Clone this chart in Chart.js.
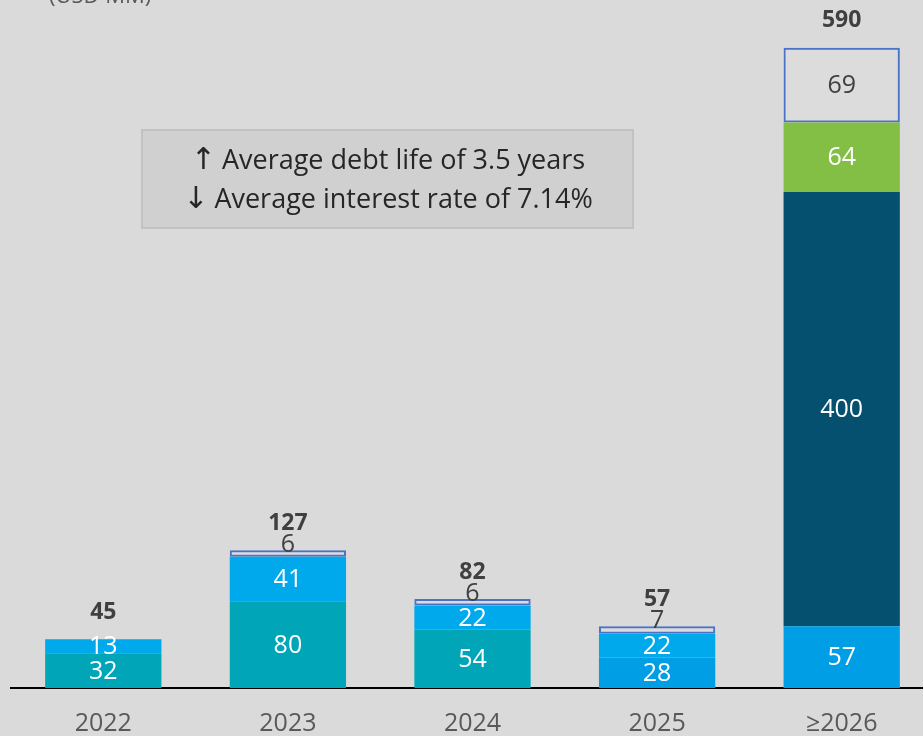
<!DOCTYPE html>
<html>
<head>
<meta charset="utf-8">
<script src="https://cdn.jsdelivr.net/npm/chart.js@4"></script>
<style>
  html, body { margin: 0; padding: 0; background: #dadada; overflow: hidden; }
  #wrap { width: 923px; height: 736px; overflow: hidden; }
</style>
</head>
<body>
<div id="wrap"><canvas id="myChart" width="934" height="736"></canvas></div>
<script>
const categories = ['2022', '2023', '2024', '2025', '≥2026'];
const tealValues = [32, 80, 54, null, null];
const blueValues = [null, null, null, 28, 57];
const lightBlueValues = [13, 41, 22, 22, null];
const navyValues = [null, null, null, null, 400];
const greenValues = [null, null, null, null, 64];
const outlineValues = [null, 6, 6, 7, 69];
const totals = [45, 127, 82, 57, 590];
const unitLabel = '(USD MM)';
const noteArrows = ['↑', '↓'];
const noteLines = ['Average debt life of 3.5 years', 'Average interest rate of 7.14%'];

const FONT = '"Open Sans", "Noto Sans", sans-serif';

const labelsPlugin = {
  id: 'labels',
  beforeDraw(chart) {
    const c = chart.ctx;
    c.save();
    c.fillStyle = '#dadada';
    c.fillRect(0, 0, chart.width, chart.height);
    c.restore();
  },
  afterDatasetsDraw(chart) {
    const c = chart.ctx;
    c.save();
    c.textAlign = 'center';
    c.textBaseline = 'middle';
    // segment values
    chart.data.datasets.forEach((ds, i) => {
      const meta = chart.getDatasetMeta(i);
      meta.data.forEach((bar, j) => {
        const v = ds.data[j];
        if (v == null) return;
        const h = bar.base - bar.y;
        let y = (bar.y + bar.base) / 2;
        if (ds.outline) {
          c.fillStyle = '#404040';
          if (h < 20) y = bar.y - 6;
        } else {
          c.fillStyle = '#ffffff';
        }
        c.font = '25px ' + FONT;
        c.fillText(String(v), bar.x, y + 1);
      });
    });
    // totals
    const xs = chart.scales.x, ys = chart.scales.y;
    c.font = 'bold 23px ' + FONT;
    c.fillStyle = '#404040';
    totals.forEach((t, j) => {
      c.fillText(String(t), xs.getPixelForValue(j), ys.getPixelForValue(t) - 27);
    });
    // unit label (cut off at top)
    c.font = '22px ' + FONT;
    c.fillStyle = '#595959';
    c.textAlign = 'left';
    c.fillText(unitLabel, 49, -3);
    // note box
    c.fillStyle = '#d0d0d0';
    c.fillRect(142, 130, 491, 98);
    c.strokeStyle = '#c2c2c2';
    c.lineWidth = 2;
    c.strokeRect(142, 130, 491, 98);
    c.fillStyle = '#262626';
    const lineY = [161, 200];
    noteLines.forEach((t, k) => {
      c.font = '30px "DejaVu Sans", sans-serif';
      const aw = c.measureText(noteArrows[k]).width;
      c.font = '27px ' + FONT;
      const tw = c.measureText(t).width;
      const gap = 6;
      const x0 = 388 - (aw + gap + tw) / 2;
      c.font = '30px "DejaVu Sans", sans-serif';
      c.fillText(noteArrows[k], x0, lineY[k]);
      c.font = '27px ' + FONT;
      c.fillText(t, x0 + aw + gap, lineY[k]);
    });
    c.restore();
  }
};

const mk = (label, data, color, extra) => Object.assign({
  label: label,
  data: data,
  backgroundColor: color,
  borderWidth: 0,
  barPercentage: 0.63,
  categoryPercentage: 1
}, extra || {});

new Chart(document.getElementById('myChart'), {
  type: 'bar',
  data: {
    labels: categories,
    datasets: [
      mk('Teal', tealValues, '#00a6b8'),
      mk('Blue', blueValues, '#009fe5'),
      mk('Light blue', lightBlueValues, '#00a9ec'),
      mk('Navy', navyValues, '#05506e'),
      mk('Green', greenValues, '#83bf45'),
      mk('Outline', outlineValues, 'rgba(255,255,255,0.08)', {
        borderColor: '#4a72c8', borderWidth: 2, borderSkipped: false, outline: true
      })
    ]
  },
  options: {
    responsive: false,
    animation: false,
    layout: { padding: { left: 11, right: 0, top: 0, bottom: -24 } },
    plugins: { legend: { display: false }, tooltip: { enabled: false } },
    scales: {
      x: {
        stacked: true,
        grid: { display: false, drawTicks: false },
        border: { display: true, color: '#000000', width: 2 },
        ticks: { color: '#595959', font: { family: FONT, size: 25 }, padding: 21 }
      },
      y: {
        stacked: true,
        display: false,
        min: 0,
        max: 634
      }
    }
  },
  plugins: [labelsPlugin]
});
</script>
</body>
</html>
